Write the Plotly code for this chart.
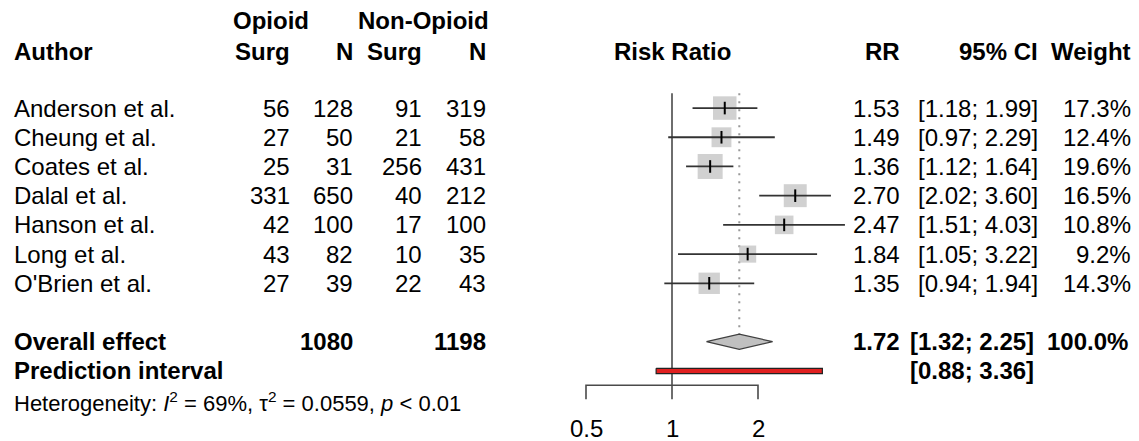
import math
import plotly.graph_objects as go

# ---------------- data ----------------
authors = ["Anderson et al.", "Cheung et al.", "Coates et al.", "Dalal et al.",
           "Hanson et al.", "Long et al.", "O'Brien et al."]
op_surg = [56, 27, 25, 331, 42, 43, 27]
op_n = [128, 50, 31, 650, 100, 82, 39]
non_surg = [91, 21, 256, 40, 17, 10, 22]
non_n = [319, 58, 431, 212, 100, 35, 43]
rr = [1.53, 1.49, 1.36, 2.70, 2.47, 1.84, 1.35]
ci_lo = [1.18, 0.97, 1.12, 2.02, 1.51, 1.05, 0.94]
ci_hi = [1.99, 2.29, 1.64, 3.60, 4.03, 3.22, 1.94]
weight = [17.3, 12.4, 19.6, 16.5, 10.8, 9.2, 14.3]

overall_rr = 1.72
overall_lo = 1.32
overall_hi = 2.25
overall_weight = 100.0
total_op_n = 1080
total_non_n = 1198
pred_lo = 0.88
pred_hi = 3.36
tick_vals = [0.5, 1, 2]
tick_text = ["0.5", "1", "2"]

# ---------------- layout constants ----------------
W, H = 1139, 441
FONT = "Liberation Sans, Arial, Helvetica, sans-serif"
FS = 24
FS_SMALL = 22

# row positions (y units, reversed axis)
study_y = list(range(len(authors)))
y_overall = 8.0
y_pred = 9.0
y_axis = 9.49
y_tick_end = 9.97
y_ticklab = 10.96
y_hetero = 10.07
y_head1 = -3.01
y_head2 = -1.92
y_top = -0.51

def px(x):
    return x / W

fig = go.Figure()

# reference line at 1 (solid)
fig.add_trace(go.Scatter(x=[1, 1], y=[y_top, y_tick_end], mode="lines",
                         line=dict(color="#4a4a4a", width=1.6), hoverinfo="skip"))
# overall effect dotted line
fig.add_trace(go.Scatter(x=[overall_rr, overall_rr], y=[y_top, y_overall - 0.26], mode="lines",
                         line=dict(color="#999999", width=2, dash="2px,6px"), hoverinfo="skip"))

# squares (area proportional to weight)
max_w = max(weight)
sizes = [25 * math.sqrt(w / max_w) for w in weight]
fig.add_trace(go.Scatter(x=rr, y=study_y, mode="markers",
                         marker=dict(symbol="square", size=sizes, color="#bebebe",
                                     line=dict(width=0)), hoverinfo="skip"))
# CI lines
xs, ys = [], []
for l, h, y in zip(ci_lo, ci_hi, study_y):
    xs += [l, h, None]
    ys += [y, y, None]
fig.add_trace(go.Scatter(x=xs, y=ys, mode="lines",
                         line=dict(color="#333333", width=1.8), hoverinfo="skip"))
# point ticks
fig.add_trace(go.Scatter(x=rr, y=study_y, mode="markers",
                         marker=dict(symbol="line-ns", size=9,
                                     line=dict(color="black", width=2)), hoverinfo="skip"))

# diamond
dh = 0.26
fig.add_trace(go.Scatter(x=[overall_lo, overall_rr, overall_hi, overall_rr, overall_lo],
                         y=[y_overall, y_overall - dh, y_overall, y_overall + dh, y_overall],
                         mode="lines", fill="toself", fillcolor="#c0c0c0",
                         line=dict(color="#404040", width=1.2), hoverinfo="skip"))

# prediction interval bar
ph = 0.09
fig.add_trace(go.Scatter(x=[pred_lo, pred_hi, pred_hi, pred_lo, pred_lo],
                         y=[y_pred - ph, y_pred - ph, y_pred + ph, y_pred + ph, y_pred - ph],
                         mode="lines", fill="toself", fillcolor="#e02020",
                         line=dict(color="#222222", width=1.2), hoverinfo="skip"))

# x axis (drawn)
ax_x = [tick_vals[0], tick_vals[0], tick_vals[-1], tick_vals[-1]]
ax_y = [y_tick_end, y_axis, y_axis, y_tick_end]
fig.add_trace(go.Scatter(x=ax_x, y=ax_y, mode="lines",
                         line=dict(color="#4a4a4a", width=1.6), hoverinfo="skip"))

ann = []

def txt(x, y, s, anchor="right", bold=False, size=FS, xref="paper"):
    if bold:
        s = "<b>" + s + "</b>"
    if xref == "x":
        x = math.log10(x)  # annotations on a log axis use log10 positions
    ann.append(dict(x=x, y=y, xref=xref, yref="y", text=s, showarrow=False,
                    xanchor=anchor, yanchor="middle",
                    font=dict(family=FONT, size=size, color="black")))

# column right edges (px)
C_AUTH = 12
C_OS, C_ON, C_NS, C_NN = 292, 355, 424, 488
C_RR, C_CI, C_W = 902, 1040, 1133

# headers
txt(px(271), y_head1, "Opioid", "center", True)
txt(px(423), y_head1, "Non-Opioid", "center", True)
txt(px(C_AUTH), y_head2, "Author", "left", True)
txt(px(C_OS), y_head2, "Surg", "right", True)
txt(px(C_ON), y_head2, "N", "right", True)
txt(px(C_NS), y_head2, "Surg", "right", True)
txt(px(C_NN), y_head2, "N", "right", True)
txt(1, y_head2, "Risk Ratio", "center", True, xref="x")
txt(px(C_RR), y_head2, "RR", "right", True)
txt(px(C_CI), y_head2, "95% CI", "right", True)
txt(px(C_W), y_head2, "Weight", "right", True)

for i, y in enumerate(study_y):
    txt(px(C_AUTH), y, authors[i], "left")
    txt(px(C_OS), y, str(op_surg[i]))
    txt(px(C_ON), y, str(op_n[i]))
    txt(px(C_NS), y, str(non_surg[i]))
    txt(px(C_NN), y, str(non_n[i]))
    txt(px(C_RR), y, f"{rr[i]:.2f}")
    txt(px(C_CI), y, f"[{ci_lo[i]:.2f}; {ci_hi[i]:.2f}]")
    txt(px(C_W), y, f"{weight[i]:.1f}%")

txt(px(C_AUTH), y_overall, "Overall effect", "left", True)
txt(px(C_ON), y_overall, str(total_op_n), "right", True)
txt(px(C_NN), y_overall, str(total_non_n), "right", True)
txt(px(C_RR), y_overall, f"{overall_rr:.2f}", "right", True)
txt(px(C_CI - 4), y_overall, f"[{overall_lo:.2f}; {overall_hi:.2f}]", "right", True)
txt(px(C_W - 3), y_overall, f"{overall_weight:.1f}%", "right", True)

txt(px(C_AUTH), y_pred, "Prediction interval", "left", True)
txt(px(C_CI - 4), y_pred, f"[{pred_lo:.2f}; {pred_hi:.2f}]", "right", True)

txt(px(C_AUTH), y_hetero,
    "Heterogeneity: <i>I</i><sup>2</sup> = 69%, τ<sup>2</sup> = 0.0559, <i>p</i> < 0.01",
    "left", False, FS_SMALL)

for v, t in zip(tick_vals, tick_text):
    txt(v, y_ticklab, t, "center", False, FS, xref="x")

# x scale: x=1 at 672px, 86 px per doubling
ppl = 86 / math.log10(2)
x_left = -672 / ppl
x_right = (W - 672) / ppl

fig.update_layout(
    width=W, height=H,
    margin=dict(l=0, r=0, t=0, b=0),
    paper_bgcolor="white", plot_bgcolor="white",
    showlegend=False,
    annotations=ann,
    xaxis=dict(type="log", range=[x_left, x_right], domain=[0, 1], visible=False,
               fixedrange=True),
    yaxis=dict(range=[11.40, -3.70], domain=[0, 1], visible=False, fixedrange=True),
)

fig.write_html("out.html", config={"displayModeBar": False},
               post_script="document.body.style.margin='0';document.body.style.overflow='hidden';")
